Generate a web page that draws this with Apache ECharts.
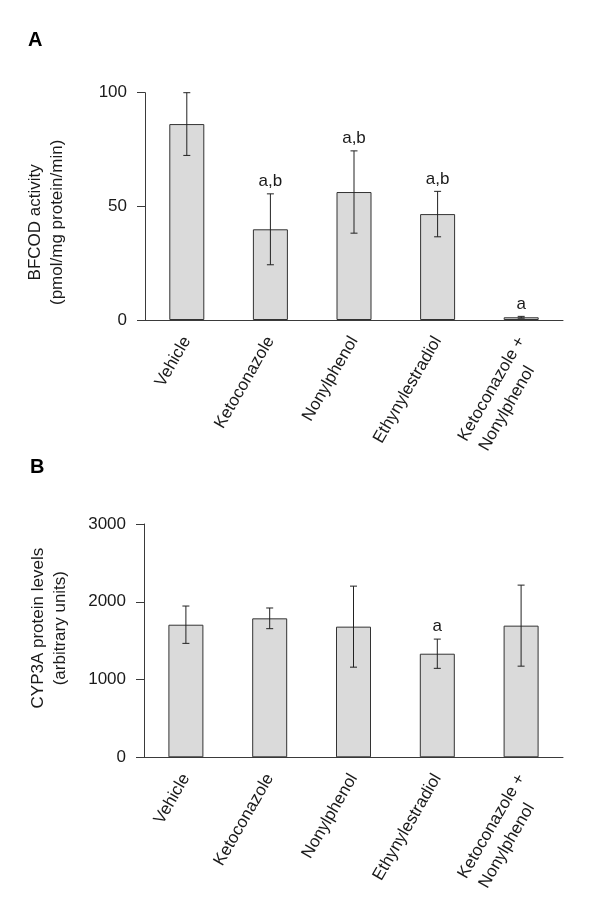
<!DOCTYPE html>
<html>
<head>
<meta charset="utf-8">
<script src="https://cdn.jsdelivr.net/npm/echarts@6/dist/echarts.min.js"></script>
<style>
html,body{margin:0;padding:0;background:#fff;}
#chart{width:600px;height:911px;}
</style>
</head>
<body>
<div id="chart"></div>
<script>
const categories = ['Vehicle', 'Ketoconazole', 'Nonylphenol', 'Ethynylestradiol', 'Ketoconazole +\nNonylphenol'];
const bfcodMean = [86.2, 39.9, 56.3, 46.6, 1.2];
const bfcodErr = [13.8, 15.6, 18.1, 10.0, 0.4];
const bfcodSig = ['', 'a,b', 'a,b', 'a,b', 'a'];
const cypMean = [1705, 1787, 1680, 1332, 1693];
const cypErr = [240, 133, 521, 188, 521];
const cypSig = ['', '', '', 'a', ''];
const bfcodTicks = { min: 0, max: 100, interval: 50 };
const cypTicks = { min: 0, max: 3000, interval: 1000 };

const FONT = '"Liberation Sans", Arial, Helvetica, sans-serif';
const AXIS_COLOR = '#3a3a3a';
const TEXT_COLOR = '#1a1a1a';

function errData(means, errs) {
  return means.map((m, i) => [i, m - errs[i], m + errs[i]]);
}
function errRender(sigs) {
  return function (params, api) {
    const x = api.value(0);
    const pLo = api.coord([x, api.value(1)]);
    const pHi = api.coord([x, api.value(2)]);
    const hw = 3.5;
    const st = { stroke: '#222', lineWidth: 1 };
    const children = [
      { type: 'line', shape: { x1: pLo[0], y1: pLo[1], x2: pHi[0], y2: pHi[1] }, style: st },
      { type: 'line', shape: { x1: pHi[0] - hw, y1: pHi[1], x2: pHi[0] + hw, y2: pHi[1] }, style: st },
      { type: 'line', shape: { x1: pLo[0] - hw, y1: pLo[1], x2: pLo[0] + hw, y2: pLo[1] }, style: st }
    ];
    const s = sigs[params.dataIndex];
    if (s) {
      children.push({
        type: 'text',
        style: { text: s, x: pHi[0], y: pHi[1] - 4, align: 'center', verticalAlign: 'bottom',
                 font: '17px ' + FONT, fill: TEXT_COLOR }
      });
    }
    return { type: 'group', children: children };
  };
}

function xAxisFor(gridIndex) {
  return {
    type: 'category', gridIndex: gridIndex, data: categories, boundaryGap: true,
    axisLine: { lineStyle: { color: AXIS_COLOR, width: 1 } },
    axisTick: { show: false },
    axisLabel: {
      interval: 0, rotate: 60, align: 'right', verticalAlign: 'middle', margin: 18,
      hideOverlap: false,
      formatter: function (v) {
        const parts = v.split('\n');
        if (parts.length === 1) return '{l|' + v + '}';
        return '{l| }\n{l|' + parts[0] + '}\n{m|' + parts[1] + '}';
      },
      rich: {
        l: { fontSize: 17, lineHeight: 23, fontFamily: FONT, color: TEXT_COLOR },
        m: { fontSize: 17, lineHeight: 23, fontFamily: FONT, color: TEXT_COLOR, padding: [0, 21, 0, 0] }
      }
    }
  };
}

function yAxisFor(gridIndex, ticks, name, gap, pad) {
  return {
    type: 'value', gridIndex: gridIndex, min: ticks.min, max: ticks.max, interval: ticks.interval,
    splitLine: { show: false },
    axisLine: { show: true, lineStyle: { color: AXIS_COLOR, width: 1 } },
    axisTick: { show: true, length: 8, lineStyle: { color: AXIS_COLOR } },
    axisLabel: { fontSize: 17, fontFamily: FONT, color: TEXT_COLOR, margin: 18,
                 formatter: function (v) { return String(v); } },
    name: name, nameLocation: 'middle', nameRotate: 90, nameGap: gap,
    nameTextStyle: { fontSize: 17, fontFamily: FONT, color: TEXT_COLOR, lineHeight: 22, padding: pad, align: 'center' }
  };
}

const barStyle = { color: '#dadada', borderColor: '#333', borderWidth: 1 };

const chart = echarts.init(document.getElementById('chart'), null, { renderer: 'canvas' });
chart.setOption({
  backgroundColor: '#ffffff',
  animation: false,
  textStyle: { fontFamily: FONT },
  title: [
    { text: 'A', left: 28, top: 30, padding: 0, textStyle: { fontSize: 20, fontWeight: 'bold', color: '#000', fontFamily: FONT } },
    { text: 'B', left: 30, top: 457, padding: 0, textStyle: { fontSize: 20, fontWeight: 'bold', color: '#000', fontFamily: FONT } }
  ],
  grid: [
    { left: 145, right: 37, top: 92.7, height: 227.3 },
    { left: 144, right: 37, top: 524, height: 233.3 }
  ],
  xAxis: [xAxisFor(0), xAxisFor(1)],
  yAxis: [
    yAxisFor(0, bfcodTicks, 'BFCOD activity\n(pmol/mg protein/min)', 77, [0, 32, 0, 0]),
    yAxisFor(1, cypTicks, 'CYP3A protein levels\n(arbitrary units)', 73, [0, 0, 0, 25])
  ],
  series: [
    { type: 'bar', xAxisIndex: 0, yAxisIndex: 0, data: bfcodMean, barWidth: 35, itemStyle: barStyle, silent: true },
    { type: 'custom', xAxisIndex: 0, yAxisIndex: 0, data: errData(bfcodMean, bfcodErr),
      encode: { x: 0, y: [1, 2] }, renderItem: errRender(bfcodSig), z: 5, silent: true },
    { type: 'bar', xAxisIndex: 1, yAxisIndex: 1, data: cypMean, barWidth: 35, itemStyle: barStyle, silent: true },
    { type: 'custom', xAxisIndex: 1, yAxisIndex: 1, data: errData(cypMean, cypErr),
      encode: { x: 0, y: [1, 2] }, renderItem: errRender(cypSig), z: 5, silent: true }
  ]
});
</script>
</body>
</html>
